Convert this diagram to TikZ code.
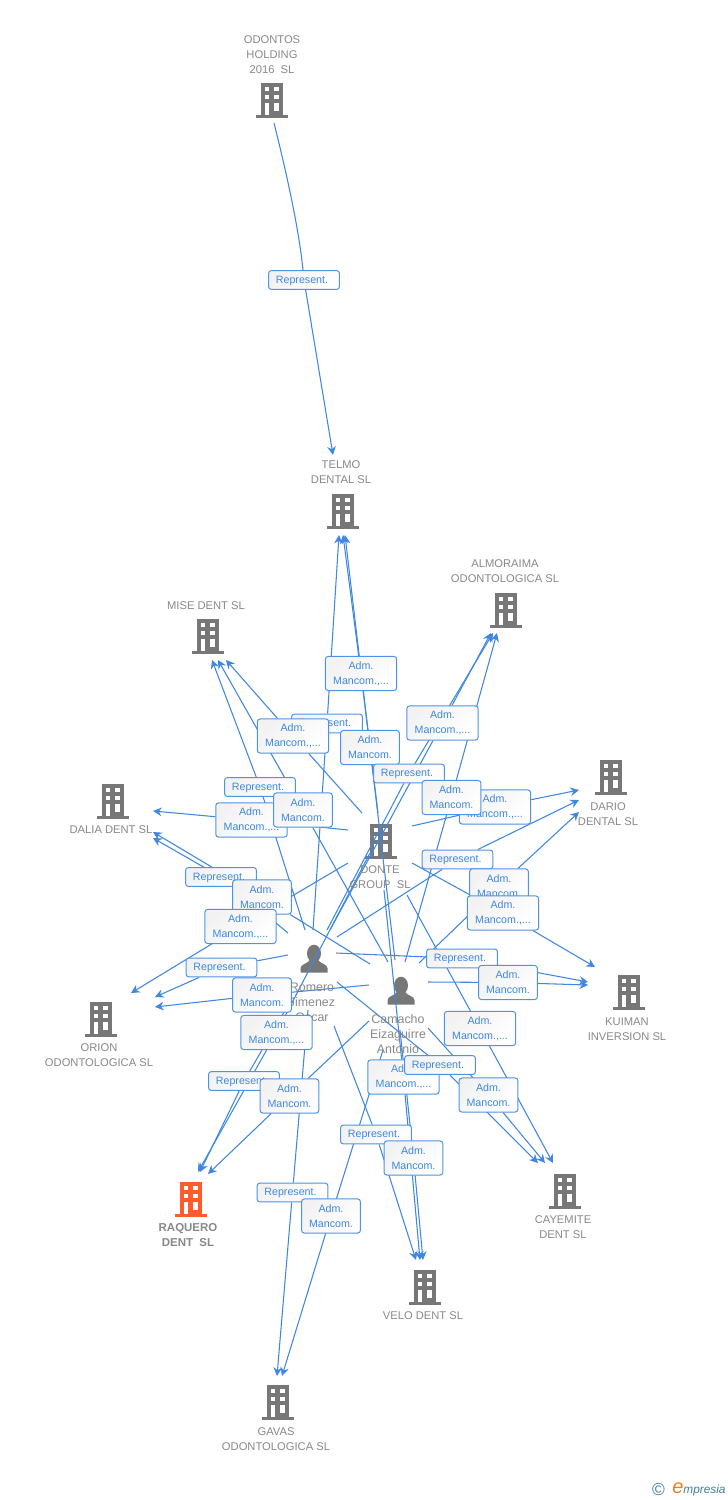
\documentclass[tikz,border=0pt]{standalone}
\usepackage{fontspec}
\setmainfont{Liberation Sans}
\usetikzlibrary{arrows.meta,backgrounds}
\definecolor{linkblue}{HTML}{3F87E2}
\definecolor{boxblue}{HTML}{4F93E6}
\definecolor{icongray}{HTML}{777777}
\definecolor{namegray}{HTML}{888888}
\definecolor{logoteal}{HTML}{3F7F9C}
\definecolor{logoorange}{HTML}{F47B20}
\definecolor{rootorange}{HTML}{FF5B2B}

\begin{document}
\begin{tikzpicture}[x=0.75pt,y=-0.75pt,
  relbox/.style={draw=boxblue,line width=0.75pt,rounded corners=2.2pt,top color=black!5,bottom color=white,shading angle=45,
    text=linkblue,inner sep=0pt,align=center,font=\fontsize{8}{11.25}\selectfont},
  rep/.style={relbox,minimum width=53.2pt,minimum height=14.2pt,text depth=0.6pt},
  adm/.style={relbox,minimum width=44.2pt,minimum height=25.6pt},
  admw/.style={relbox,minimum width=53.6pt,minimum height=25.6pt},
  link/.style={linkblue,line width=0.8pt,-{Stealth[length=6.5pt,width=6.5pt,inset=2.2pt]}},
  co/.style={text=namegray,align=center,inner sep=0pt,font=\fontsize{8.4}{11.25}\selectfont},
  who/.style={text=namegray,align=center,inner sep=0pt,font=\fontsize{9.3}{11.25}\selectfont},
  pics/bldg/.style={code={
    \fill[#1] (-10.8,-17) rectangle (10.8,15);
    \fill[#1] (-15.8,15) rectangle (15.8,17.6);
    \foreach \wy in {-12.7,-4.8,3} {
      \fill[white] (-7.2,\wy) rectangle (-2.8,\wy+3.8);
      \fill[white] (2.2,\wy) rectangle (6.6,\wy+3.8);
    }
    \fill[white] (-7.2,7) rectangle (-2.8,15);
    \fill[white] (2.2,7) rectangle (6.6,10.8);
  }},
  pics/person/.style={code={
    \fill[icongray] (0,-5.5) ellipse (7 and 8.8);
    \fill[icongray] (-13.5,13.5) -- (-13.5,9) .. controls (-13,5) and (-7,5) .. (-4,1) -- (4,1)
      .. controls (7,5) and (13,5) .. (13.5,9) -- (13.5,13.5) -- cycle;
  }}]
\useasboundingbox (0,0) rectangle (728,1500);

\node[co] (odontos) at (272,54.5) {ODONTOS\\HOLDING\\2016\ \ SL};
\node[co] (telmo) at (341,472.5) {TELMO\\DENTAL SL};
\node[co] (almoraima) at (505,571.5) {ALMORAIMA\\ODONTOLOGICA SL};
\node[co] (mise) at (206,606) {MISE DENT SL};
\node[co] (dario) at (608,814.5) {DARIO\\DENTAL SL};
\node[co] (dalia) at (111,830) {DALIA DENT SL};
\node[co] (donte) at (380,877.5) {DONTE\\GROUP\ \ SL};
\node[who] (romero) at (312,1002) {Romero\\Jimenez\\Oscar};
\node[who] (camacho) at (398,1034) {Camacho\\Eizaguirre\\Antonio};
\node[co] (kuiman) at (627,1029.5) {KUIMAN\\INVERSION SL};
\node[co] (orion) at (99,1055.5) {ORION\\ODONTOLOGICA SL};
\node[co,font=\fontsize{8.6}{11.25}\selectfont\bfseries] (raquero) at (188,1235.5) {RAQUERO\\DENT\ \ SL};
\node[co] (cayemite) at (563,1227.5) {CAYEMITE\\DENT SL};
\node[co] (velo) at (423,1316) {VELO DENT SL};
\node[co] (gavas) at (276,1439.5) {GAVAS\\ODONTOLOGICA SL};

\node[rep] (lOdontos) at (304,280) {Represent.\hspace{3pt}};
\node[rep] (lTelmoA) at (327,723.5) {Represent.\hspace{3pt}};
\node[admw] (lMiseA) at (293,736) {Adm.\\Mancom.,...};
\node[adm] (lTelmoB) at (370,747.5) {Adm.\\Mancom.};
\node[admw] (lTelmoC) at (361,673.5) {Adm.\\Mancom.,...};
\node[admw] (lAlmoA) at (442.5,723) {Adm.\\Mancom.,...};
\node[rep] (lAlmoB) at (409,773.5) {Represent.\hspace{3pt}};
\node[admw] (lDarioA) at (495,807) {Adm.\\Mancom.,...};
\node[adm] (lAlmoC) at (451.5,797.5) {Adm.\\Mancom.};
\node[rep] (lMiseB) at (260,787) {Represent.\hspace{3pt}};
\node[admw] (lDaliaA) at (251.5,820) {Adm.\\Mancom.,...};
\node[adm] (lMiseC) at (303,810) {Adm.\\Mancom.};
\node[rep] (lDaliaB) at (221,877) {Represent.\hspace{3pt}};
\node[adm] (lDaliaC) at (262,897) {Adm.\\Mancom.};
\node[admw] (lOrionA) at (240.5,926.5) {Adm.\\Mancom.,...};
\node[rep] (lDarioB) at (457.5,859.5) {Represent.\hspace{3pt}};
\node[adm] (lDarioC) at (499,886) {Adm.\\Mancom.};
\node[admw] (lKuimanA) at (503,913) {Adm.\\Mancom.,...};
\node[rep] (lOrionB) at (221.5,967.5) {Represent.\hspace{3pt}};
\node[adm] (lOrionC) at (262,995) {Adm.\\Mancom.};
\node[rep] (lKuimanB) at (462,958.5) {Represent.\hspace{3pt}};
\node[adm] (lKuimanC) at (508,982.5) {Adm.\\Mancom.};
\node[admw] (lRaqueroA) at (276.5,1032.5) {Adm.\\Mancom.,...};
\node[admw] (lCayemiteA) at (480,1028.5) {Adm.\\Mancom.,...};
\node[rep] (lRaqueroB) at (244,1081) {Represent.\hspace{3pt}};
\node[adm] (lRaqueroC) at (289.5,1096) {Adm.\\Mancom.};
\node[admw] (lVeloA) at (403.5,1077) {Adm.\\Mancom.,...};
\node[rep] (lCayemiteB) at (440,1065) {Represent.\hspace{3pt}};
\node[adm] (lCayemiteC) at (488.5,1095) {Adm.\\Mancom.};
\node[rep] (lVeloB) at (376,1134.5) {Represent.\hspace{3pt}};
\node[adm] (lVeloC) at (413.5,1158) {Adm.\\Mancom.};
\node[rep] (lGavasA) at (292.5,1192.5) {Represent.\hspace{3pt}};
\node[adm] (lGavasB) at (331,1216) {Adm.\\Mancom.};

\node[text=logoteal,inner sep=0pt,font=\fontsize{13}{13}\selectfont] (logoc) at (658.5,1489) {\textcopyright};
\node[anchor=west,inner sep=0pt,text=logoteal,font=\fontsize{8.9}{12}\selectfont\itshape] (logo) at (672,1489)
  {\textcolor{logoorange}{\fontsize{15}{15}\selectfont e}mpresia};

\begin{scope}[on background layer]
\pic at (272,100) {bldg=icongray};
\pic at (343,511) {bldg=icongray};
\pic at (506,610) {bldg=icongray};
\pic at (208,636) {bldg=icongray};
\pic at (611,777) {bldg=icongray};
\pic at (113,801) {bldg=icongray};
\pic at (381,841) {bldg=icongray};
\pic at (629,992) {bldg=icongray};
\pic at (101,1019) {bldg=icongray};
\pic at (191,1199) {bldg=rootorange};
\pic at (565,1191) {bldg=icongray};
\pic at (425,1287) {bldg=icongray};
\pic at (278,1402) {bldg=icongray};
\pic at (314,959) {person};
\pic at (401,991) {person};

\coordinate (sOdontos) at (274,123); \coordinate (tOdontos) at (333,455);
\coordinate (sTelmoA) at (313,930); \coordinate (tTelmoA) at (339,535);
\coordinate (sTelmoB) at (395,960); \coordinate (tTelmoB) at (345,535);
\coordinate (sTelmoC) at (378,813); \coordinate (tTelmoC) at (343,535);
\coordinate (sMiseA) at (362,813); \coordinate (tMiseA) at (226,660);
\coordinate (sMiseB) at (305,930); \coordinate (tMiseB) at (212,660);
\coordinate (sMiseC) at (388,962); \coordinate (tMiseC) at (218,660);
\coordinate (sAlmoA) at (330,930); \coordinate (tAlmoA) at (491,633);
\coordinate (sAlmoB) at (327,930); \coordinate (tAlmoB) at (493,633);
\coordinate (sAlmoC) at (405,962); \coordinate (tAlmoC) at (497,633);
\coordinate (sDarioA) at (412,826); \coordinate (tDarioA) at (579,790);
\coordinate (sDarioB) at (337,937); \coordinate (tDarioB) at (579,800);
\coordinate (sDarioC) at (419,963); \coordinate (tDarioC) at (579,812);
\coordinate (sDaliaA) at (348,830); \coordinate (tDaliaA) at (153,811);
\coordinate (sDaliaB) at (288,933); \coordinate (tDaliaB) at (153,838);
\coordinate (sDaliaC) at (370,964); \coordinate (tDaliaC) at (153,832);
\coordinate (sOrionA) at (348,863); \coordinate (tOrionA) at (131,993);
\coordinate (sOrionB) at (288,955); \coordinate (tOrionB) at (155,997);
\coordinate (sOrionC) at (369,985); \coordinate (tOrionC) at (155,1007);
\coordinate (sKuimanA) at (412,863); \coordinate (tKuimanA) at (595,967);
\coordinate (sKuimanB) at (336,953); \coordinate (tKuimanB) at (588,982);
\coordinate (sKuimanC) at (428,982); \coordinate (tKuimanC) at (588,985);
\coordinate (sRaqueroA) at (370,853); \coordinate (tRaqueroA) at (198,1172);
\coordinate (sRaqueroB) at (287,1007); \coordinate (tRaqueroB) at (200,1172);
\coordinate (sRaqueroC) at (369,1021); \coordinate (tRaqueroC) at (208,1174);
\coordinate (sCayemiteA) at (407,895); \coordinate (tCayemiteA) at (553,1163);
\coordinate (sCayemiteB) at (337,982); \coordinate (tCayemiteB) at (538,1163);
\coordinate (sCayemiteC) at (428,1028); \coordinate (tCayemiteC) at (545,1163);
\coordinate (sVeloA) at (384,890); \coordinate (tVeloA) at (420,1260);
\coordinate (sVeloB) at (334,1026); \coordinate (tVeloB) at (416,1260);
\coordinate (sVeloC) at (400,1030); \coordinate (tVeloC) at (423,1260);
\coordinate (sGavasA) at (308,1010); \coordinate (tGavasA) at (277,1376);
\coordinate (sGavasB) at (383,1050); \coordinate (tGavasB) at (282,1376);

\draw[link] (sOdontos) .. controls (292,195) and (300,240) .. (lOdontos) -- (tOdontos);
\draw[link] (sTelmoA) -- (lTelmoA) -- (tTelmoA);
\draw[link] (sTelmoB) -- (lTelmoB) -- (tTelmoB);
\draw[link] (sTelmoC) -- (lTelmoC) -- (tTelmoC);
\draw[link] (sMiseA) -- (lMiseA) -- (tMiseA);
\draw[link] (sMiseB) -- (lMiseB) -- (tMiseB);
\draw[link] (sMiseC) -- (lMiseC) -- (tMiseC);
\draw[link] (sAlmoA) -- (lAlmoA) -- (tAlmoA);
\draw[link] (sAlmoB) -- (lAlmoB) -- (tAlmoB);
\draw[link] (sAlmoC) -- (lAlmoC) -- (tAlmoC);
\draw[link] (sDarioA) -- (lDarioA) -- (tDarioA);
\draw[link] (sDarioB) -- (lDarioB) -- (tDarioB);
\draw[link] (sDarioC) -- (lDarioC) -- (tDarioC);
\draw[link] (sDaliaA) -- (lDaliaA) -- (tDaliaA);
\draw[link] (sDaliaB) -- (lDaliaB) -- (tDaliaB);
\draw[link] (sDaliaC) -- (lDaliaC) -- (tDaliaC);
\draw[link] (sOrionA) -- (lOrionA) -- (tOrionA);
\draw[link] (sOrionB) -- (lOrionB) -- (tOrionB);
\draw[link] (sOrionC) -- (lOrionC) -- (tOrionC);
\draw[link] (sKuimanA) -- (lKuimanA) -- (tKuimanA);
\draw[link] (sKuimanB) -- (lKuimanB) -- (tKuimanB);
\draw[link] (sKuimanC) -- (lKuimanC) -- (tKuimanC);
\draw[link] (sRaqueroA) -- (lRaqueroA) -- (tRaqueroA);
\draw[link] (sRaqueroB) -- (lRaqueroB) -- (tRaqueroB);
\draw[link] (sRaqueroC) -- (lRaqueroC) -- (tRaqueroC);
\draw[link] (sCayemiteA) -- (lCayemiteA) -- (tCayemiteA);
\draw[link] (sCayemiteB) -- (lCayemiteB) -- (tCayemiteB);
\draw[link] (sCayemiteC) -- (lCayemiteC) -- (tCayemiteC);
\draw[link] (sVeloA) -- (lVeloA) -- (tVeloA);
\draw[link] (sVeloB) -- (lVeloB) -- (tVeloB);
\draw[link] (sVeloC) -- (lVeloC) -- (tVeloC);
\draw[link] (sGavasA) -- (lGavasA) -- (tGavasA);
\draw[link] (sGavasB) -- (lGavasB) -- (tGavasB);
\end{scope}
\end{tikzpicture}
\end{document}
